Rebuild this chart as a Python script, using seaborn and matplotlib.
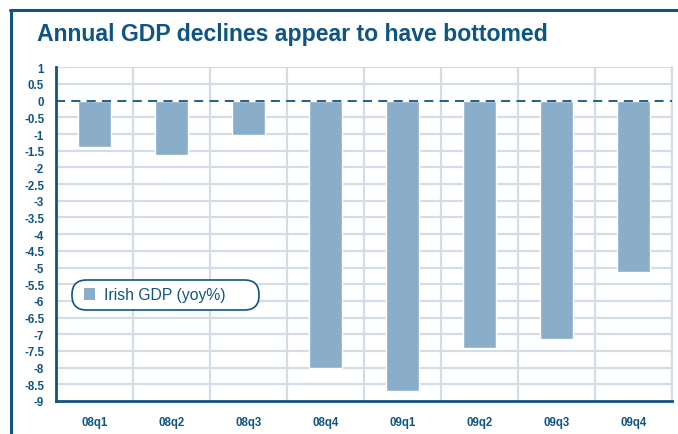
import numpy as np
import pandas as pd
import matplotlib
matplotlib.use("Agg")
import matplotlib.pyplot as plt
from matplotlib.lines import Line2D
from matplotlib.patches import Patch, FancyBboxPatch
import seaborn as sns

quarters = ["08q1", "08q2", "08q3", "08q4", "09q1", "09q2", "09q3", "09q4"]
gdp_yoy = [-1.4, -1.64, -1.03, -8.0, -8.7, -7.4, -7.13, -5.12]
y_ticks = [1, 0.5, 0, -0.5, -1, -1.5, -2, -2.5, -3, -3.5, -4, -4.5, -5, -5.5,
           -6, -6.5, -7, -7.5, -8, -8.5, -9]
y_labels = ["1", "0.5", "0", "-0.5", "-1", "-1.5", "-2", "-2.5", "-3", "-3.5", "-4",
            "-4.5", "-5", "-5.5", "-6", "-6.5", "-7", "-7.5", "-8", "-8.5", "-9"]

dark = "#0f5582"
bar_col = "#8aaec9"
grid_col = "#d3dde8"

sns.set_style("white")
plt.rcParams['font.family'] = ['Liberation Sans', 'DejaVu Sans']

df = pd.DataFrame({"Quarter": quarters, "GDP": gdp_yoy})

W, H = 678, 435
fig = plt.figure(figsize=(W / 100, H / 100), dpi=100)
ax = fig.add_axes([56 / W, 1 - 402 / H, (672 - 56) / W, (402 - 68.3) / H])

sns.barplot(data=df, x="Quarter", y="GDP", color=bar_col, saturation=1,
            width=0.43, ax=ax, zorder=3)

ax.set_xlim(-0.5, len(quarters) - 0.5)
ax.set_ylim(-9, 1)
ax.set_yticks(y_ticks)
ax.set_yticklabels(y_labels)
ax.set_xticks(range(len(quarters)))
ax.set_xticklabels(quarters)
ax.set_xticks(np.arange(-0.5, len(quarters), 1), minor=True)
ax.set_xlabel("")
ax.set_ylabel("")

# grid
for yv in y_ticks:
    if yv != -9 and yv != 0:
        ax.axhline(yv, color=grid_col, lw=1.6, zorder=1)
for xv in np.arange(0.5, len(quarters), 1):
    ax.axvline(xv, color=grid_col, lw=1.6, zorder=1)
ax.axvline(len(quarters) - 0.5, color=grid_col, lw=1.6, zorder=1, clip_on=False)
ax.axhline(0, color=dark, lw=1.3, ls=(0, (5, 3.5)), zorder=4)

for side in ["top", "right"]:
    ax.spines[side].set_visible(False)
for side in ["left", "bottom"]:
    ax.spines[side].set_color(dark)
    ax.spines[side].set_linewidth(2)

ax.tick_params(axis="y", direction="out", length=7.5, width=2, color=dark,
               labelcolor=dark, labelsize=8.3, pad=1)
ax.tick_params(axis="x", which="major", length=0, labelcolor=dark, labelsize=8.3, pad=11)
ax.tick_params(axis="x", which="minor", direction="out", length=7, width=2, color=dark)
for lab in ax.get_xticklabels() + ax.get_yticklabels():
    lab.set_fontweight("bold")

# legend: pill-shaped box drawn in pixel coordinates, entry on top without frame
box = FancyBboxPatch((72, H - 311), 187, 30,
                     boxstyle="round,pad=0,rounding_size=14.5",
                     transform=None, facecolor="white", edgecolor=dark, lw=1.2, zorder=5)
fig.add_artist(box)
handle = Patch(facecolor=bar_col, edgecolor="none")
leg = fig.legend([handle], ["Irish GDP (yoy%)"], loc="center left",
                 bbox_to_anchor=(84 / W, 1 - 296 / H),
                 frameon=False, fontsize=11.3, handlelength=0.72, handleheight=0.72,
                 handletextpad=0.55, borderpad=0, borderaxespad=0)
for t in leg.get_texts():
    t.set_color(dark)
leg.set_zorder(6)

# outer frame
fig.add_artist(Line2D([10.5 / W, 10.5 / W], [0, 1 - 10.5 / H], color=dark, lw=2.2))
fig.add_artist(Line2D([9.5 / W, 1], [1 - 10.5 / H, 1 - 10.5 / H], color=dark, lw=2.2))

fig.text(37 / W, 1 - 35 / H, "Annual GDP declines appear to have bottomed",
         color=dark, fontsize=16.6, fontweight="bold", va="center", ha="left")

fig.savefig("out.png", dpi=100)
